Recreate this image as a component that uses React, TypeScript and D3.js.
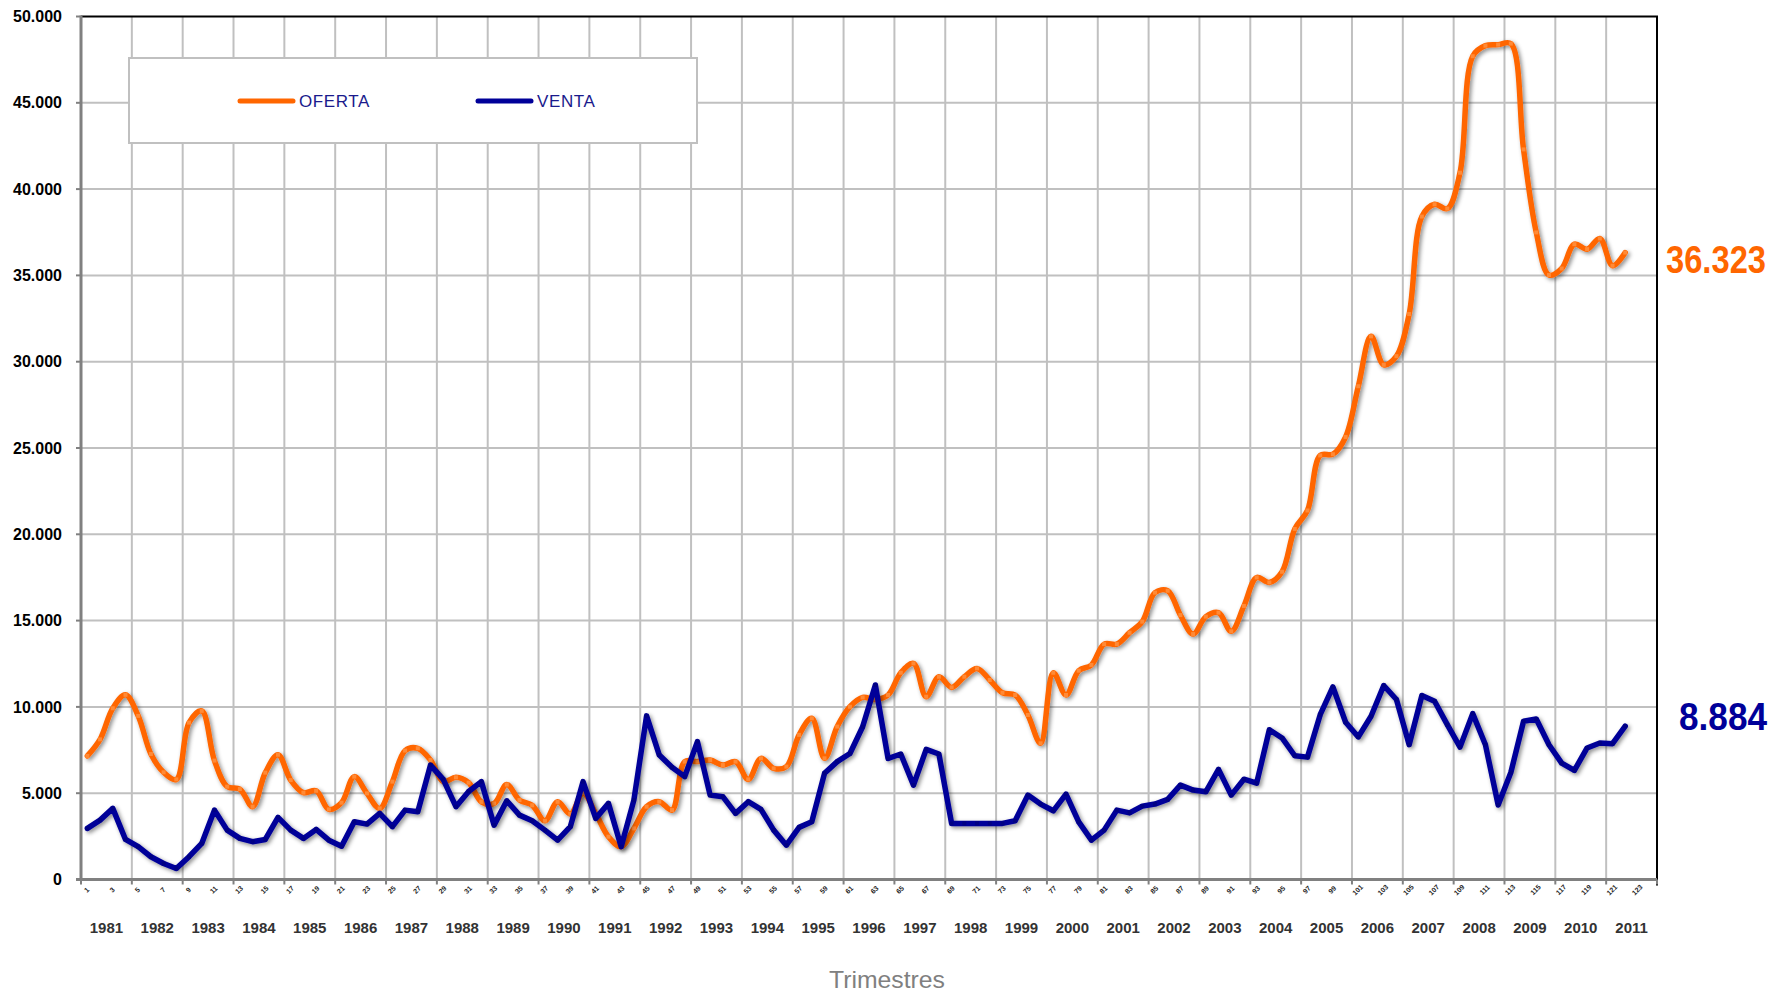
import { useEffect, useRef } from 'react';
import * as d3 from 'd3';

const YEARS = ['1981', '1982', '1983', '1984', '1985', '1986', '1987', '1988', '1989', '1990',
  '1991', '1992', '1993', '1994', '1995', '1996', '1997', '1998', '1999', '2000',
  '2001', '2002', '2003', '2004', '2005', '2006', '2007', '2008', '2009', '2010', '2011'];

// one value per quarter, 1981-T1 .. 2011-T2
const OFERTA = [
  7160, 8120, 9920, 10700, 9480, 7270, 6210, 5800, 9090, 9770,
  6890, 5380, 5240, 4220, 6190, 7230, 5760, 5030, 5140, 4060,
  4450, 5960, 4990, 4120, 5670, 7470, 7600, 6920, 5670, 5920,
  5610, 4500, 4400, 5500, 4600, 4300, 3400, 4500, 3800, 5000,
  3830, 2480, 1900, 2960, 4220, 4510, 4020, 6830, 6830, 6920,
  6630, 6830, 5800, 7020, 6440, 6540, 8380, 9340, 7020, 8860,
  10010, 10550, 10430, 10690, 11980, 12520, 10590, 11750, 11130, 11750,
  12230, 11560, 10820, 10690, 9530, 7890, 11980, 10690, 12100, 12430,
  13640, 13640, 14300, 14940, 16620, 16730, 15320, 14220, 15230, 15460,
  14380, 15850, 17500, 17210, 17830, 20310, 21380, 24570, 24640, 25640,
  28580, 31470, 29820, 30320, 32760, 38410, 39120, 38870, 40950, 47700,
  48310, 48370, 48430, 42300, 37490, 35020, 35400, 36810, 36520, 37140,
  35560, 36323,
];

const VENTA = [
  2960, 3440, 4120, 2320, 1900, 1320, 930, 640, 1320, 2090,
  4020, 2860, 2380, 2190, 2320, 3600, 2860, 2380, 2900, 2280,
  1930, 3350, 3210, 3830, 3060, 4020, 3930, 6630, 5800, 4220,
  5100, 5670, 3150, 4560, 3730, 3400, 2860, 2280, 3060, 5670,
  3540, 4410, 1900, 4600, 9480, 7210, 6500, 5960, 7990, 4890,
  4800, 3830, 4510, 4060, 2860, 1990, 3020, 3350, 6150, 6830,
  7300, 8850, 11270, 7010, 7270, 5470, 7540, 7270, 3250, 3250,
  3250, 3250, 3250, 3400, 4890, 4370, 3980, 4950, 3340, 2280,
  2860, 4020, 3860, 4250, 4370, 4640, 5470, 5180, 5080, 6380,
  4890, 5810, 5580, 8680, 8200, 7170, 7090, 9550, 11160, 9110,
  8260, 9460, 11240, 10430, 7810, 10660, 10330, 8970, 7670, 9610,
  7810, 4320, 6200, 9170, 9300, 7810, 6740, 6320, 7620, 7910,
  7870, 8884,
];

const Y_TICKS = [0, 5000, 10000, 15000, 20000, 25000, 30000, 35000, 40000, 45000, 50000];

export default function App() {
  const ref = useRef<SVGSVGElement>(null);

  useEffect(() => {
    if (!ref.current) return;
    const svg = d3.select(ref.current);
    svg.selectAll('*').remove();

    const W = 1783;
    const H = 992;
    const left = 81, right = 1657, top = 16.5, bottom = 879.5;
    const font = '"Liberation Sans", Arial, sans-serif';

    const quarters = d3.range(1, YEARS.length * 4 + 1);
    const x = d3.scaleBand<number>().domain(quarters).range([left, right]).padding(0);
    const bw = x.bandwidth();
    const cx = (i: number) => (x(i) as number) + bw / 2;
    const y = d3.scaleLinear().domain([0, 50000]).range([bottom, top]);
    const fmt = d3.formatLocale({ decimal: ',', thousands: '.', grouping: [3], currency: ['', ''] }).format(',d');

    svg.attr('width', W).attr('height', H);

    const defs = svg.append('defs');
    const f = defs.append('filter').attr('id', 'shadow')
      .attr('x', '-5%').attr('y', '-5%').attr('width', '110%').attr('height', '110%');
    f.append('feDropShadow').attr('dx', 2).attr('dy', 2).attr('stdDeviation', 2)
      .attr('flood-color', '#000').attr('flood-opacity', 0.45);

    // grid
    const grid = svg.append('g');
    grid.selectAll('line.h').data(Y_TICKS.filter(t => t > 0 && t < 50000)).enter().append('line')
      .attr('x1', left).attr('x2', right)
      .attr('y1', d => y(d)).attr('y2', d => y(d))
      .attr('stroke', '#c0c0c0').attr('stroke-width', 2);
    const yearBounds = d3.range(1, YEARS.length).map(k => x(k * 4 + 1) as number);
    grid.selectAll('line.v').data(yearBounds).enter().append('line')
      .attr('x1', d => d).attr('x2', d => d)
      .attr('y1', top).attr('y2', bottom)
      .attr('stroke', '#c0c0c0').attr('stroke-width', 2);

    // frame
    svg.append('line').attr('x1', left).attr('x2', right + 1).attr('y1', top).attr('y2', top)
      .attr('stroke', '#000').attr('stroke-width', 2);
    svg.append('line').attr('x1', right).attr('x2', right).attr('y1', top).attr('y2', bottom + 6)
      .attr('stroke', '#000').attr('stroke-width', 2);
    svg.append('line').attr('x1', left).attr('x2', left).attr('y1', top - 1).attr('y2', bottom)
      .attr('stroke', '#808080').attr('stroke-width', 3);
    svg.append('line').attr('x1', left - 5).attr('x2', right).attr('y1', bottom).attr('y2', bottom)
      .attr('stroke', '#808080').attr('stroke-width', 3);

    // y axis ticks + labels
    const yAx = svg.append('g');
    yAx.selectAll('line').data(Y_TICKS).enter().append('line')
      .attr('x1', left - 5).attr('x2', left).attr('y1', d => y(d)).attr('y2', d => y(d))
      .attr('stroke', '#808080').attr('stroke-width', 2);
    yAx.selectAll('text').data(Y_TICKS).enter().append('text')
      .attr('x', 62).attr('y', d => y(d)).attr('dy', '0.35em')
      .attr('text-anchor', 'end').attr('font-family', font).attr('font-weight', 'bold')
      .attr('font-size', 16).attr('fill', '#000')
      .text(d => fmt(d));

    // x axis ticks + labels
    const xAx = svg.append('g');
    xAx.selectAll('line').data([left, ...yearBounds, right]).enter().append('line')
      .attr('x1', d => d).attr('x2', d => d).attr('y1', bottom).attr('y2', bottom + 5)
      .attr('stroke', '#808080').attr('stroke-width', 2);
    xAx.selectAll('text.q').data(quarters.filter(q => q % 2 === 1)).enter().append('text')
      .attr('transform', d => `translate(${cx(d) + 1},${bottom + 12}) rotate(-45)`)
      .attr('text-anchor', 'middle').attr('font-family', font).attr('font-weight', 'bold')
      .attr('font-size', 7).attr('fill', '#222')
      .text(d => String(d));
    xAx.selectAll('text.y').data(YEARS).enter().append('text')
      .attr('x', (d, k) => (x(k * 4 + 1) as number) + bw * 2)
      .attr('y', 933)
      .attr('text-anchor', 'middle').attr('font-family', font).attr('font-weight', 'bold')
      .attr('font-size', 15).attr('fill', '#333')
      .text(d => d);

    svg.append('text').attr('x', 887).attr('y', 988).attr('text-anchor', 'middle')
      .attr('font-family', font).attr('font-size', 24).attr('fill', '#808080')
      .attr('textLength', 116).attr('lengthAdjust', 'spacingAndGlyphs')
      .text('Trimestres');

    // series
    const series = [
      { name: 'OFERTA', values: OFERTA, color: '#FF6600', marker: '#FF9A4D', curve: d3.curveCatmullRom.alpha(0.5) },
      { name: 'VENTA', values: VENTA, color: '#000099', marker: '#00007a', curve: d3.curveLinear },
    ];

    series.forEach(s => {
      const line = d3.line<number>()
        .x((d, i) => cx(i + 1))
        .y(d => y(d))
        .curve(s.curve);
      const g = svg.append('g').attr('filter', 'url(#shadow)');
      g.append('path').attr('d', line(s.values) as string)
        .attr('fill', 'none').attr('stroke', s.color).attr('stroke-width', 5.5)
        .attr('stroke-linejoin', 'round').attr('stroke-linecap', 'round');
      svg.append('g').selectAll('rect').data(s.values).enter().append('rect')
        .attr('x', (d, i) => cx(i + 1) - 2).attr('y', d => y(d) - 2)
        .attr('width', 4).attr('height', 4)
        .attr('fill', s.marker).attr('opacity', 0.7);
    });

    // legend
    const lg = svg.append('g');
    lg.append('rect').attr('x', 129).attr('y', 58).attr('width', 568).attr('height', 85)
      .attr('fill', '#fff').attr('stroke', '#c0c0c0').attr('stroke-width', 2);
    const items = [
      { label: 'OFERTA', color: '#FF6600', x0: 240 },
      { label: 'VENTA', color: '#000099', x0: 478 },
    ];
    items.forEach(it => {
      lg.append('line').attr('x1', it.x0).attr('x2', it.x0 + 53).attr('y1', 101).attr('y2', 101)
        .attr('stroke', it.color).attr('stroke-width', 5).attr('stroke-linecap', 'round');
      lg.append('text').attr('x', it.x0 + 59).attr('y', 101).attr('dy', '0.35em')
        .attr('font-family', font).attr('font-size', 17).attr('letter-spacing', 0.6)
        .attr('fill', '#1a1a8c').text(it.label);
    });

    // last values
    const last = [
      { v: OFERTA[OFERTA.length - 1], color: '#FF6600', x1: 1766, base: 273, len: 100 },
      { v: VENTA[VENTA.length - 1], color: '#000099', x1: 1767, base: 730, len: 88 },
    ];
    last.forEach(l => {
      svg.append('text').attr('x', l.x1).attr('y', l.base).attr('text-anchor', 'end')
        .attr('font-family', '"Liberation Sans Narrow", "Arial Narrow", "Liberation Sans", sans-serif')
        .attr('font-weight', 'bold').attr('font-size', 39).attr('fill', l.color)
        .attr('textLength', l.len).attr('lengthAdjust', 'spacingAndGlyphs')
        .text(fmt(l.v));
    });
  }, []);

  return (
    <svg ref={ref} style={{ position: 'absolute', left: 0, top: 0, display: 'block', background: '#fff' }} />
  );
}
